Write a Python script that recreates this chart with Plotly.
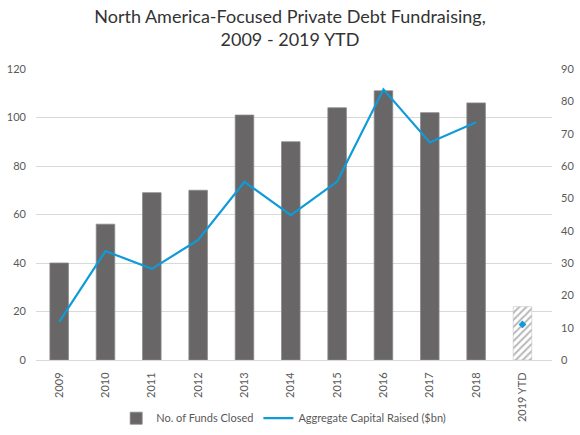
import plotly.graph_objects as go

years = ["2009", "2010", "2011", "2012", "2013", "2014", "2015", "2016", "2017", "2018"]
ytd_label = ["2019 YTD"]
funds_closed = [40, 56, 69, 70, 101, 90, 104, 111, 102, 106]
funds_closed_ytd = [22]
capital_raised = [11.8, 33.7, 28.2, 37.1, 55.1, 44.8, 55.2, 83.7, 67.3, 73.5]
capital_raised_ytd = [11]
all_cats = years + ytd_label

FONT = "Lato"
BAR = "#686667"
LINE = "#0F9AD8"
GRID = "#d9d9d9"
TICK = "#595959"

fig = go.Figure()
fig.add_trace(go.Bar(
    x=years, y=funds_closed, name="No. of Funds Closed",
    marker=dict(color=BAR, line=dict(color="#8a8889", width=0.8)),
    yaxis="y",
))
fig.add_trace(go.Bar(
    x=ytd_label, y=funds_closed_ytd, name="No. of Funds Closed (YTD)", showlegend=False,
    marker=dict(color="white", line=dict(color="#bbbbbb", width=0.5),
                pattern=dict(shape="/", fgcolor="#707070", bgcolor="white", size=5, solidity=0.4)),
    yaxis="y",
))
fig.add_trace(go.Scatter(
    x=years, y=capital_raised, name="Aggregate Capital Raised ($bn)",
    mode="lines", line=dict(color=LINE, width=2.2), yaxis="y2",
))
fig.add_trace(go.Scatter(
    x=ytd_label, y=capital_raised_ytd, showlegend=False, mode="markers",
    marker=dict(color=LINE, size=6, symbol="diamond"), yaxis="y2",
))

fig.update_layout(
    width=580, height=435,
    margin=dict(l=36, r=28, t=69, b=75, autoexpand=False),
    paper_bgcolor="white", plot_bgcolor="white",
    font=dict(family=FONT, color=TICK, size=11),
    barmode="overlay", bargap=0.6,
    title=dict(text="North America-Focused Private Debt Fundraising,<br>2009 - 2019 YTD",
               x=0.5, xanchor="center", xref="container",
               y=0.948, yanchor="top", yref="container",
               font=dict(family=FONT, size=18, color="#333333")),
    xaxis=dict(type="category", categoryorder="array", categoryarray=all_cats,
               tickangle=-90, showgrid=False, showline=True, linecolor=GRID, linewidth=1,
               ticks="", ticklabelstandoff=7, automargin=False,
               tickfont=dict(size=11, color=TICK)),
    yaxis=dict(range=[0, 120], dtick=20, showgrid=True, gridcolor=GRID, gridwidth=1,
               zeroline=False, showline=False, ticks="", ticklabelstandoff=9, automargin=False,
               tickfont=dict(size=11, color=TICK)),
    yaxis2=dict(range=[0, 90], dtick=10, overlaying="y", side="right", showgrid=False,
                zeroline=False, showline=False, ticks="", ticklabelstandoff=8, automargin=False,
                tickfont=dict(size=11, color=TICK)),
    legend=dict(orientation="h", x=0.48, xanchor="center", y=-0.2, yanchor="middle",
                font=dict(size=11, color=TICK), itemwidth=30, traceorder="normal"),
)

fig.write_html("out.html", config={"displayModeBar": False},
               post_script="document.body.style.margin='0';document.body.style.overflow='hidden';")
